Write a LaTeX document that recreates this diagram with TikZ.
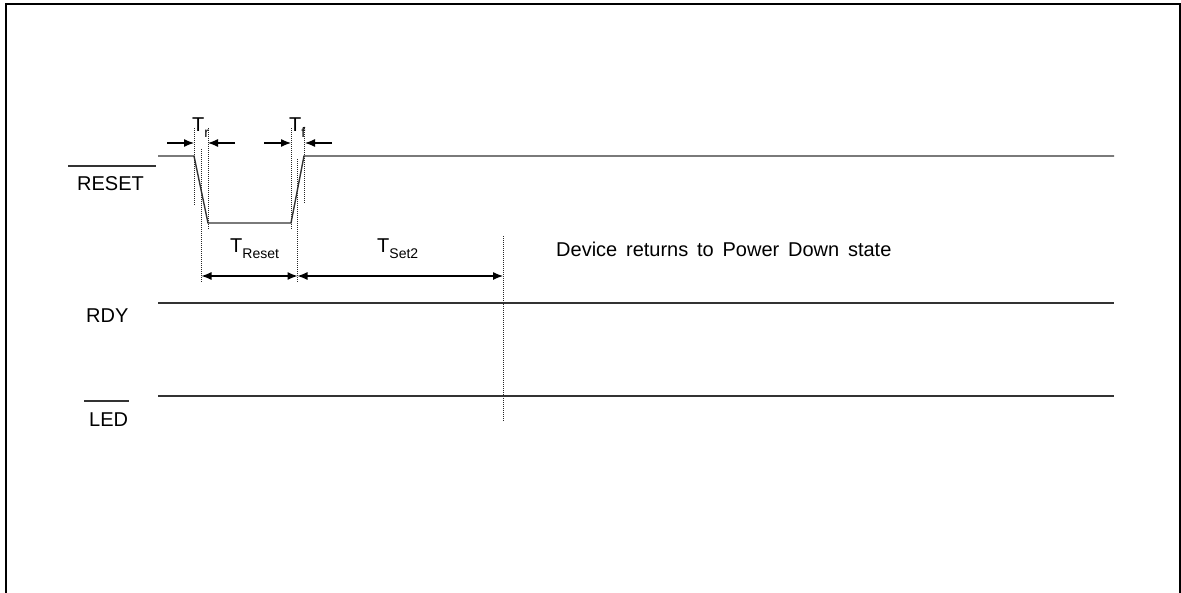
\documentclass[tikz,border=0pt]{standalone}
\usepackage{fontspec}
\setmainfont{Liberation Sans}
\usetikzlibrary{arrows.meta}
\begin{document}
\begin{tikzpicture}[x=1pt,y=-1pt,
  sig/.style={line width=1.4pt,draw=black!80},
  guide/.style={line width=0.8pt,draw=black!85,dash pattern=on 1pt off 1pt},
  dim/.style={line width=1.2pt,{Latex[length=10pt,width=8pt]}-{Latex[length=10pt,width=8pt]}},
  tick/.style={line width=1.2pt,-{Latex[length=10pt,width=8pt]}},
  lbl/.style={inner sep=0pt,anchor=base west,font=\fontsize{20}{24}\selectfont},
  bar/.style={line width=1.4pt,draw=black!80}]
\useasboundingbox (0,0) rectangle (1181,592);
\draw[line width=2pt] (6,620) -- (6,4) -- (1180,4) -- (1180,620);

% signal labels
\node[lbl] (reset) at (77,190) {RESET};
\node[lbl] (rdy) at (86,322) {RDY};
\node[lbl] (led) at (89,426) {LED};
\coordinate (rbarL) at (68,166); \coordinate (rbarR) at (156,166);
\coordinate (lbarL) at (84,401); \coordinate (lbarR) at (129,401);
\draw[bar] (rbarL) -- (rbarR);
\draw[bar] (lbarL) -- (lbarR);

% RESET waveform
\coordinate (r0) at (158,156);
\coordinate (r1) at (194,156);
\coordinate (r2) at (208,223);
\coordinate (r3) at (291,223);
\coordinate (r4) at (304,156);
\coordinate (r5) at (1114,156);
\draw[sig] (r0) -- (r1) -- (r2) -- (r3) -- (r4) -- (r5);

% RDY and LED
\coordinate (y0) at (158,303); \coordinate (y1) at (1114,303);
\coordinate (l0) at (158,396); \coordinate (l1) at (1114,396);
\draw[sig] (y0) -- (y1);
\draw[sig] (l0) -- (l1);

% guide lines
\coordinate (g1a) at (194.5,128); \coordinate (g1b) at (194.5,205);
\coordinate (g2a) at (201.5,149); \coordinate (g2b) at (201.5,283);
\coordinate (g3a) at (208,128);   \coordinate (g3b) at (208,230);
\coordinate (g4a) at (291,128);   \coordinate (g4b) at (291,230);
\coordinate (g5a) at (297.5,159); \coordinate (g5b) at (297.5,283);
\coordinate (g6a) at (304.5,128); \coordinate (g6b) at (304.5,204);
\coordinate (g7a) at (503,236);   \coordinate (g7b) at (503,422);
\foreach \g in {1,...,7} {\draw[guide] (g\g a) -- (g\g b);}

% Tr / Tf arrows
\coordinate (a1) at (167,143); \coordinate (a1t) at (194,143);
\coordinate (a2) at (235,143); \coordinate (a2t) at (208,143);
\coordinate (a3) at (264,143); \coordinate (a3t) at (291,143);
\coordinate (a4) at (332,143); \coordinate (a4t) at (305,143);
\draw[tick] (a1) -- (a1t);
\draw[tick] (a2) -- (a2t);
\draw[tick] (a3) -- (a3t);
\draw[tick] (a4) -- (a4t);

\node[lbl] (tr) at (192,131) {T\raisebox{-6pt}{\fontsize{14}{14}\selectfont r}};
\node[lbl] (tf) at (289,131) {T\raisebox{-6pt}{\fontsize{14}{14}\selectfont f}};

% dimension arrows
\coordinate (d1) at (201.5,276); \coordinate (d2) at (297.5,276); \coordinate (d3) at (503,276);
\draw[dim] (d1) -- (d2);
\draw[dim] (d2) -- (d3);
\node[lbl] (treset) at (230,252) {T\raisebox{-6pt}{\fontsize{14}{14}\selectfont Reset}};
\node[lbl] (tset) at (377,252) {T\raisebox{-6pt}{\fontsize{14}{14}\selectfont Set2}};

\node[lbl] (dev) at (556,256) {\spaceskip=8.8pt Device returns to Power Down state};
\end{tikzpicture}
\end{document}
